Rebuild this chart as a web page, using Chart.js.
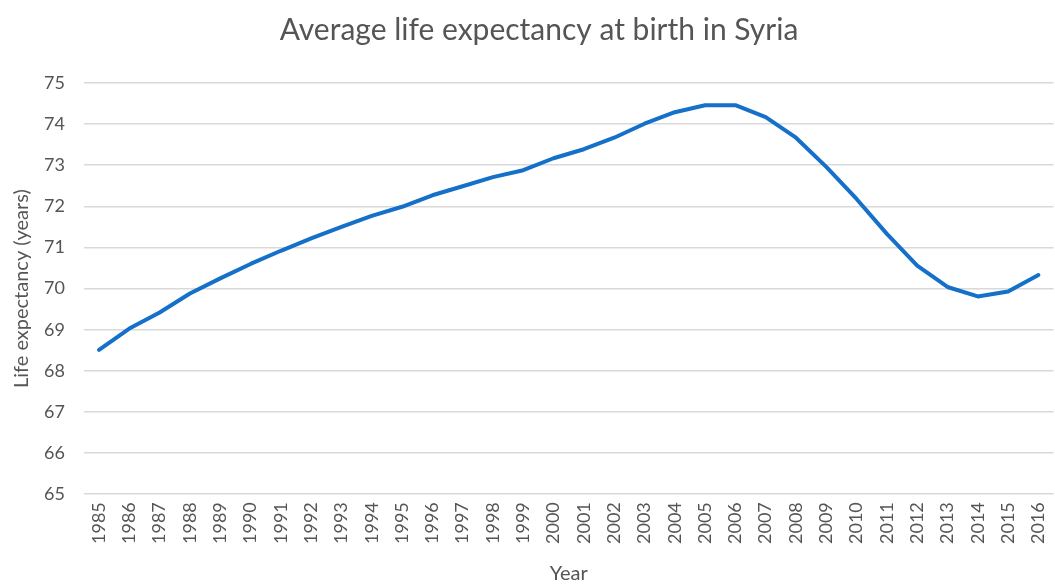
<!DOCTYPE html>
<html>
<head>
<meta charset="utf-8">
<script src="https://cdn.jsdelivr.net/npm/chart.js@4/dist/chart.umd.min.js"></script>
<style>
  html, body { margin: 0; padding: 0; background: #fff; overflow: hidden; }
  #caja { width: 1068px; height: 586px; position: relative; }
</style>
</head>
<body>
<div id="caja"><canvas id="grafico"></canvas></div>
<script>
// Datos del gráfico
const anios = ['1985', '1986', '1987', '1988', '1989', '1990', '1991', '1992', '1993', '1994',
  '1995', '1996', '1997', '1998', '1999', '2000', '2001', '2002', '2003', '2004',
  '2005', '2006', '2007', '2008', '2009', '2010', '2011', '2012', '2013', '2014',
  '2015', '2016'];
const esperanzaVida = [68.51, 69.03, 69.42, 69.88, 70.25, 70.6, 70.92, 71.22, 71.5, 71.77,
  71.99, 72.27, 72.49, 72.71, 72.88, 73.17, 73.39, 73.67, 74.01, 74.29,
  74.46, 74.46, 74.17, 73.67, 72.96, 72.18, 71.33, 70.56, 70.04, 69.81,
  69.93, 70.33];
const ticksY = [65, 66, 67, 68, 69, 70, 71, 72, 73, 74, 75];

const gris = '#555555';
const fuente = 'Lato, "Open Sans", sans-serif';

const ctx = document.getElementById('grafico').getContext('2d');
const grafico = new Chart(ctx, {
  type: 'line',
  data: {
    labels: anios,
    datasets: [{
      label: 'Life expectancy',
      data: esperanzaVida,
      borderColor: '#1470c8',
      borderWidth: 4,
      fill: false,
      tension: 0,
      pointRadius: 0,
      borderCapStyle: 'round',
      borderJoinStyle: 'round'
    }]
  },
  options: {
    responsive: true,
    maintainAspectRatio: false,
    animation: false,
    layout: { padding: { left: 10, right: 0, top: 0, bottom: 0 } },
    plugins: {
      legend: { display: false },
      tooltip: { enabled: false },
      title: {
        display: true,
        text: 'Average life expectancy at birth in Syria',
        color: gris,
        font: { family: fuente, size: 30, weight: 'normal' },
        padding: { top: 12, bottom: 35 }
      }
    },
    scales: {
      x: {
        offset: true,
        grid: { display: false, drawTicks: false },
        border: { display: false },
        ticks: {
          color: gris,
          font: { family: fuente, size: 18 },
          minRotation: 90,
          maxRotation: 90,
          autoSkip: false,
          padding: 8
        },
        title: {
          display: true,
          text: 'Year',
          color: gris,
          font: { family: fuente, size: 20 },
          padding: { top: 10, bottom: 0 }
        }
      },
      y: {
        min: ticksY[0],
        max: ticksY[ticksY.length - 1],
        afterBuildTicks: eje => { eje.ticks = ticksY.map(v => ({ value: v })); },
        grid: { color: '#d9d9d9', lineWidth: 1.5, drawTicks: false },
        border: { display: false },
        ticks: {
          color: gris,
          font: { family: fuente, size: 18 },
          padding: 19
        },
        title: {
          display: true,
          text: 'Life expectancy (years)',
          color: gris,
          font: { family: fuente, size: 20 },
          padding: { top: 0, bottom: -9 }
        }
      }
    }
  }
});
</script>
</body>
</html>
